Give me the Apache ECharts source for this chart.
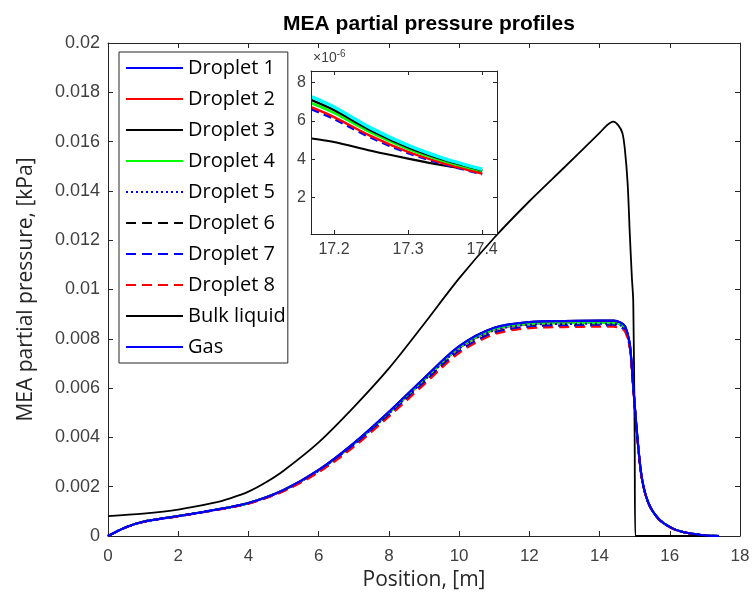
<!DOCTYPE html>
<html>
<head>
<meta charset="utf-8">
<script src="https://cdn.jsdelivr.net/npm/echarts@6/dist/echarts.min.js"></script>
<style>
  html, body { margin: 0; padding: 0; background: #fff; }
  #chart { width: 753px; height: 599px; }
</style>
</head>
<body>
<div id="chart"></div>
<script>
// positions along the column, [m]
const POSITION = [0, 0.5, 1, 2, 3, 4, 5, 6, 7, 8, 9, 10, 11, 12, 13, 14, 14.4, 14.6, 14.72, 14.8, 14.87, 14.96, 15.06, 15.2, 15.39, 15.68, 16.06, 16.44, 16.9, 17.17, 17.4];

// MEA partial pressure, [kPa]
const droplet1 = [0, 0.00035, 0.00058, 0.00081, 0.00105, 0.00134, 0.00186, 0.00267, 0.00375, 0.00502, 0.00638, 0.00768, 0.00843, 0.00866, 0.0087, 0.00872, 0.00872, 0.00864, 0.0085, 0.00818, 0.00768, 0.0061, 0.0043, 0.0024, 0.00135, 0.0007, 0.00032, 0.00014, 0.00004, 0.0000066, 0.0000032];
const droplet2 = [0, 0.00035, 0.00058, 0.00081, 0.00105, 0.00133, 0.00185, 0.00265, 0.00372, 0.00498, 0.00632, 0.00762, 0.00837, 0.0086, 0.00864, 0.00866, 0.00866, 0.00858, 0.00845, 0.00813, 0.00764, 0.00606, 0.00428, 0.00239, 0.00134, 0.0007, 0.00032, 0.00014, 0.00004, 0.0000067, 0.0000032];
const droplet3 = [0, 0.00035, 0.00058, 0.00081, 0.00105, 0.00134, 0.00187, 0.00268, 0.00376, 0.00503, 0.0064, 0.0077, 0.00845, 0.00868, 0.00872, 0.00874, 0.00874, 0.00866, 0.00852, 0.0082, 0.0077, 0.0061, 0.0043, 0.0024, 0.00135, 0.0007, 0.00032, 0.00014, 0.00004, 0.0000071, 0.0000034];
const droplet4 = [0, 0.00035, 0.00058, 0.00081, 0.00105, 0.00133, 0.00186, 0.00266, 0.00373, 0.00499, 0.00634, 0.00764, 0.00838, 0.0086, 0.00863, 0.00864, 0.00864, 0.00857, 0.00844, 0.00813, 0.00764, 0.00606, 0.00428, 0.00239, 0.00134, 0.0007, 0.00032, 0.00014, 0.00004, 0.0000069, 0.0000034];
const droplet5 = [0, 0.00035, 0.00058, 0.0008, 0.00104, 0.00133, 0.00185, 0.00265, 0.00371, 0.00496, 0.0063, 0.0076, 0.00834, 0.00857, 0.0086, 0.00861, 0.00861, 0.00854, 0.00841, 0.0081, 0.00762, 0.00604, 0.00427, 0.00238, 0.00134, 0.0007, 0.00032, 0.00014, 0.00004, 0.0000068, 0.0000033];
const droplet6 = [0, 0.00034, 0.00057, 0.0008, 0.00104, 0.00132, 0.00183, 0.00262, 0.00366, 0.0049, 0.00622, 0.0075, 0.00826, 0.0085, 0.00854, 0.00855, 0.00855, 0.00848, 0.00836, 0.00806, 0.00758, 0.00601, 0.00425, 0.00237, 0.00133, 0.00069, 0.00032, 0.00014, 0.00004, 0.0000067, 0.0000033];
const droplet7 = [0, 0.00034, 0.00057, 0.0008, 0.00104, 0.00132, 0.00183, 0.00261, 0.00365, 0.00489, 0.0062, 0.00748, 0.00824, 0.00848, 0.00852, 0.00853, 0.00853, 0.00846, 0.00834, 0.00804, 0.00757, 0.006, 0.00424, 0.00237, 0.00133, 0.00069, 0.00032, 0.00014, 0.00004, 0.0000066, 0.0000032];
const droplet8 = [0, 0.00034, 0.00057, 0.0008, 0.00103, 0.00131, 0.00181, 0.00258, 0.00361, 0.00484, 0.00614, 0.00742, 0.00818, 0.00843, 0.00847, 0.00849, 0.00849, 0.00842, 0.0083, 0.008, 0.00752, 0.00596, 0.00421, 0.00235, 0.00132, 0.00069, 0.00031, 0.00014, 0.00004, 0.0000067, 0.0000032];
const gas = [0, 0.00035, 0.00058, 0.00081, 0.00105, 0.00134, 0.00187, 0.00268, 0.00377, 0.00504, 0.0064, 0.0077, 0.00845, 0.00868, 0.00872, 0.00874, 0.00874, 0.00866, 0.00852, 0.0082, 0.0077, 0.0061, 0.0043, 0.0024, 0.00135, 0.0007, 0.00032, 0.00014, 0.00004, 0.0000073, 0.0000035];

// bulk liquid has its own grid (sharp drop near 15 m)
const BULK_POSITION = [0, 1, 2, 3, 3.5, 4, 4.5, 5, 6, 7, 8, 9, 10, 11, 12, 13, 14, 14.2, 14.39, 14.53, 14.65, 14.72, 14.8, 14.86, 14.92, 14.96, 15.0, 15.02, 15.5, 16.5, 17.4];
const bulkLiquid = [0.00081, 0.00091, 0.00107, 0.00134, 0.00154, 0.0018, 0.00218, 0.00265, 0.0038, 0.00523, 0.0068, 0.0086, 0.01045, 0.0121, 0.01358, 0.01496, 0.01635, 0.01665, 0.01681, 0.01667, 0.01635, 0.0157, 0.0143, 0.0123, 0.0105, 0.0095, 0.004, 0, 0, 0, 0];

// inset (zoom at the outlet), values x10^-6 kPa
const INSET_POSITION = [17.17, 17.2, 17.25, 17.3, 17.35, 17.4];
const insetCyan = [7.25, 6.72, 5.62, 4.72, 4.02, 3.48];
const insetBlackUpper = [7.08, 6.57, 5.5, 4.62, 3.95, 3.42];
const insetGreen = [6.92, 6.42, 5.38, 4.53, 3.88, 3.38];
const insetRed = [6.7, 6.2, 5.2, 4.38, 3.76, 3.25];
const insetBlueDashed = [6.6, 6.1, 5.12, 4.32, 3.72, 3.22];
const insetBlackLower = [5.08, 4.9, 4.44, 4.03, 3.66, 3.36];

const X_TICKS = [0, 18, 2];
const Y_TICKS = [0, 0.02, 0.002];
const INSET_X_TICKS = [17.2, 17.3, 17.4];
const INSET_Y_TICKS = [2, 4, 6, 8];

function pairs(xs, ys) {
  return xs.map((x, i) => [x, ys[i]]);
}

const AX = '#262626';
const LBL = '#404040';

function mainLine(name, data, color, width, type) {
  return {
    name: name,
    type: 'line',
    xAxisIndex: 0,
    yAxisIndex: 0,
    data: data,
    symbol: 'none',
    smooth: 0.3,
    lineStyle: { color: color, width: width, type: type || 'solid' },
    itemStyle: { color: color },
    z: 3
  };
}

function insetLine(ys, color, width, type) {
  return {
    type: 'line',
    xAxisIndex: 2,
    yAxisIndex: 2,
    data: pairs(INSET_POSITION, ys),
    symbol: 'none',
    smooth: 0.3,
    lineStyle: { color: color, width: width, type: type || 'solid' },
    z: 12,
    silent: true
  };
}

const boxAxis = {
  axisLine: { show: true, onZero: false, lineStyle: { color: AX, width: 1 } },
  splitLine: { show: false }
};

const chart = echarts.init(document.getElementById('chart'));
chart.setOption({
  animation: false,
  backgroundColor: '#fff',
  title: {
    text: 'MEA partial pressure profiles',
    left: 424,
    top: 9,
    textAlign: 'center',
    textStyle: { fontFamily: 'Liberation Sans', fontWeight: 'bold', fontSize: 21, color: '#000' }
  },
  grid: [
    { left: 108, right: 13, top: 43, bottom: 63, show: false },
    { left: 311, top: 71, width: 186, height: 163, show: true, backgroundColor: '#fff', borderWidth: 0, z: 10 }
  ],
  legend: {
    data: ['Droplet 1', 'Droplet 2', 'Droplet 3', 'Droplet 4', 'Droplet 5', 'Droplet 6', 'Droplet 7', 'Droplet 8', 'Bulk liquid', 'Gas'],
    orient: 'vertical',
    left: 119,
    top: 52,
    padding: [6, 2, 6, 6],
    itemWidth: 57,
    itemHeight: 14,
    itemGap: 11,
    itemStyle: { opacity: 0 },
    backgroundColor: '#fff',
    borderColor: AX,
    borderWidth: 1,
    borderRadius: 0,
    selectedMode: false,
    z: 20,
    textStyle: { fontFamily: 'Open Sans', fontSize: 20, color: '#000', lineHeight: 20 }
  },
  xAxis: [
    Object.assign({}, boxAxis, {
      type: 'value', gridIndex: 0, position: 'bottom',
      min: X_TICKS[0], max: X_TICKS[1], interval: X_TICKS[2],
      name: 'Position, [m]', nameLocation: 'middle', nameGap: 30,
      nameTextStyle: { fontFamily: 'Open Sans', fontSize: 21, color: '#262626' },
      axisTick: { inside: true, length: 5, lineStyle: { color: AX } },
      axisLabel: { fontFamily: 'Liberation Sans', fontSize: 17, color: LBL, margin: 12 }
    }),
    Object.assign({}, boxAxis, {
      type: 'value', gridIndex: 0, position: 'top',
      min: X_TICKS[0], max: X_TICKS[1], interval: X_TICKS[2],
      axisTick: { inside: true, length: 5, lineStyle: { color: AX } },
      axisLabel: { show: false }
    }),
    Object.assign({}, boxAxis, {
      type: 'value', gridIndex: 1, position: 'bottom',
      min: 17.169, max: 17.42,
      axisTick: { inside: true, length: 4, customValues: INSET_X_TICKS, lineStyle: { color: AX } },
      axisLabel: { customValues: INSET_X_TICKS, fontFamily: 'Liberation Sans', fontSize: 16, color: LBL, margin: 8 },
      z: 13
    }),
    Object.assign({}, boxAxis, {
      type: 'value', gridIndex: 1, position: 'top',
      min: 17.169, max: 17.42,
      axisTick: { inside: true, length: 4, customValues: INSET_X_TICKS, lineStyle: { color: AX } },
      axisLabel: { show: false },
      z: 13
    })
  ],
  yAxis: [
    Object.assign({}, boxAxis, {
      type: 'value', gridIndex: 0, position: 'left',
      min: Y_TICKS[0], max: Y_TICKS[1], interval: Y_TICKS[2],
      name: 'MEA partial pressure, [kPa]', nameLocation: 'middle', nameGap: 71,
      nameTextStyle: { fontFamily: 'Open Sans', fontSize: 21, color: '#262626' },
      axisTick: { inside: true, length: 5, lineStyle: { color: AX } },
      axisLabel: {
        fontFamily: 'Liberation Sans', fontSize: 18, color: LBL, margin: 8,
        formatter: v => String(+v.toFixed(3))
      }
    }),
    Object.assign({}, boxAxis, {
      type: 'value', gridIndex: 0, position: 'right',
      min: Y_TICKS[0], max: Y_TICKS[1], interval: Y_TICKS[2],
      axisTick: { inside: true, length: 5, lineStyle: { color: AX } },
      axisLabel: { show: false }
    }),
    Object.assign({}, boxAxis, {
      type: 'value', gridIndex: 1, position: 'left',
      min: 0.1, max: 8.6,
      name: '{a|×10}{b|-6}', nameLocation: 'end', nameGap: 4,
      nameTextStyle: {
        align: 'left', padding: [0, 0, 0, 2],
        rich: {
          a: { fontFamily: 'Liberation Sans', fontSize: 14, color: LBL },
          b: { fontFamily: 'Liberation Sans', fontSize: 10, color: LBL, verticalAlign: 'top', padding: [0, 0, 8, 0] }
        }
      },
      axisTick: { inside: true, length: 4, customValues: INSET_Y_TICKS, lineStyle: { color: AX } },
      axisLabel: { customValues: INSET_Y_TICKS, fontFamily: 'Liberation Sans', fontSize: 16, color: LBL, margin: 5 },
      z: 25
    }),
    Object.assign({}, boxAxis, {
      type: 'value', gridIndex: 1, position: 'right',
      min: 0.1, max: 8.6,
      axisTick: { inside: true, length: 4, customValues: INSET_Y_TICKS, lineStyle: { color: AX } },
      axisLabel: { show: false },
      z: 13
    })
  ],
  series: [
    mainLine('Droplet 1', pairs(POSITION, droplet1), '#0000ff', 2),
    mainLine('Droplet 2', pairs(POSITION, droplet2), '#ff0000', 2),
    mainLine('Droplet 3', pairs(POSITION, droplet3), '#000000', 2),
    mainLine('Droplet 4', pairs(POSITION, droplet4), '#00ff00', 2),
    mainLine('Droplet 5', pairs(POSITION, droplet5), '#0000ff', 2, [2, 3]),
    mainLine('Droplet 6', pairs(POSITION, droplet6), '#000000', 2, [10, 6]),
    mainLine('Droplet 7', pairs(POSITION, droplet7), '#0000ff', 2, [10, 6]),
    mainLine('Droplet 8', pairs(POSITION, droplet8), '#ff0000', 2, [10, 6]),
    mainLine('Bulk liquid', pairs(BULK_POSITION, bulkLiquid), '#000000', 1.8),
    mainLine('Gas', pairs(POSITION, gas), '#0000ff', 2.2),
    insetLine(insetBlackLower, '#000000', 2.2),
    insetLine(insetBlueDashed, '#0000ff', 2.5, [8, 5]),
    insetLine(insetRed, '#ff0000', 2.5),
    insetLine(insetGreen, '#00ff00', 2.5),
    insetLine(insetBlackUpper, '#000000', 2.5),
    insetLine(insetCyan, '#00ffff', 3.5)
  ]
});
</script>
</body>
</html>
